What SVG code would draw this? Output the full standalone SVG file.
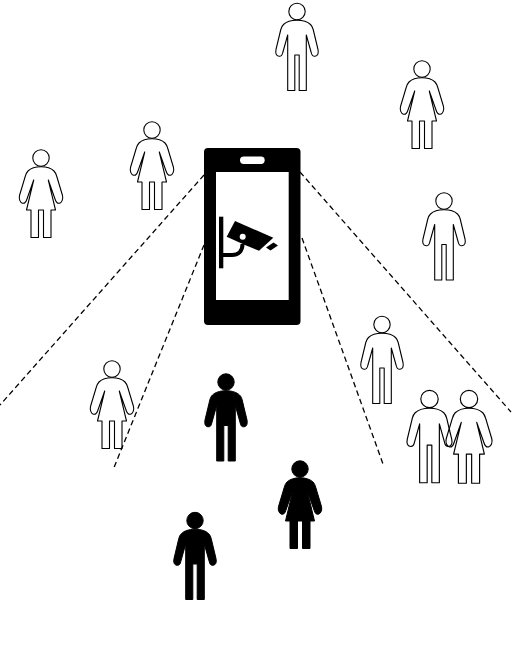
<svg xmlns="http://www.w3.org/2000/svg" width="512" height="650" viewBox="0 0 512 650">
<style>
.o{fill:none;stroke:#000;stroke-width:1.1;stroke-linejoin:round}
.f{fill:#000;stroke:#000;stroke-width:1;stroke-linejoin:round}
.d{fill:none;stroke:#000;stroke-width:1.3;stroke-dasharray:5.500 3.500}
</style>
<defs>
<g id="man">
<circle cx="0" cy="0" r="8.200"/>
<path d="M0 8.700C-6 8.700-11 10.500-13.500 13C-15 14.500-15.500 15.500-16.200 18L-21 38C-21.700 41.500-21 44.500-18 44.800C-15.500 45-14.700 43.500-14.200 41L-9.300 23.500V79H-2.200V43.500H2.200V79H9.300V23.500L14.200 41C14.700 43.500 15.500 45 18 44.800C21 44.500 21.700 41.500 21 38L16.200 18C15.500 15.500 15 14.500 13.500 13C11 10.500 6 8.700 0 8.700Z"/>
</g>
<g id="woman">
<circle cx="0" cy="0" r="8.200"/>
<path d="M0 8.700C-5.500 8.700-10.500 10.500-13 13C-14.500 14.500-15 16-15.800 18.500L-21.500 37.500C-22.300 41-21 44.500-18.500 45.200C-16 45.700-15 44-14.200 41.500L-7.300 22L-14.500 52H-10V79.500H-2.500V52H2.500V79.500H10V52H14.500L7.300 22L14.200 41.500C15 44 16 45.700 18.500 45.200C21 44.500 22.300 41 21.500 37.500L15.800 18.500C15 16 14.500 14.500 13 13C10.500 10.500 5.500 8.700 0 8.700Z"/>
</g>
</defs>
<g id="connectors">
<path class="d" d="M204 175L0 405"/>
<path class="d" d="M300 172L511 412"/>
<path class="d" d="M204 245L113 470"/>
<path class="d" d="M302 238L383 464"/>
</g>
<g id="phone">
<rect x="204" y="148" width="96.500" height="177" rx="4" fill="#000"/>
<rect x="216" y="172" width="72.700" height="128" fill="#fff"/>
<rect x="240" y="156.500" width="24.700" height="7.500" rx="3.700" fill="#fff"/>
<rect x="219" y="216.700" width="4.300" height="51.600" fill="#000"/>
<path d="M223 255H232C238.500 255 242.500 251 242.500 244" fill="none" stroke="#000" stroke-width="4"/>
<path d="M235 221L273.300 237.700L259 250.700L245 245L226.700 236.700Z" fill="#000"/>
<circle cx="242.700" cy="236.700" r="3" fill="#fff"/>
<path d="M266 247.500L273.500 242.500L278 245.500L270.500 250.500Z" fill="#000"/>
</g>
<g id="person-1" class="o"><use href="#man" x="297" y="11.500"/></g>
<g id="person-2" class="o"><use href="#woman" x="422" y="69"/></g>
<g id="person-3" class="o"><use href="#woman" x="152" y="130"/></g>
<g id="person-4" class="o"><use href="#woman" x="41" y="158"/></g>
<g id="person-5" class="o"><use href="#man" x="444" y="201"/></g>
<g id="person-6" class="o"><use href="#man" x="382" y="324.500"/></g>
<g id="person-7" class="o"><use href="#woman" x="112" y="369"/></g>
<g id="person-8" class="o"><use href="#man" transform="translate(429.500 399) scale(1.06)"/></g>
<g id="person-9" class="o"><use href="#woman" transform="translate(469 399) scale(1.06)"/></g>
<g id="person-10" class="f"><use href="#man" x="226" y="382"/></g>
<g id="person-11" class="f"><use href="#woman" x="300" y="469"/></g>
<g id="person-12" class="f"><use href="#man" x="195" y="520.500"/></g>
</svg>
